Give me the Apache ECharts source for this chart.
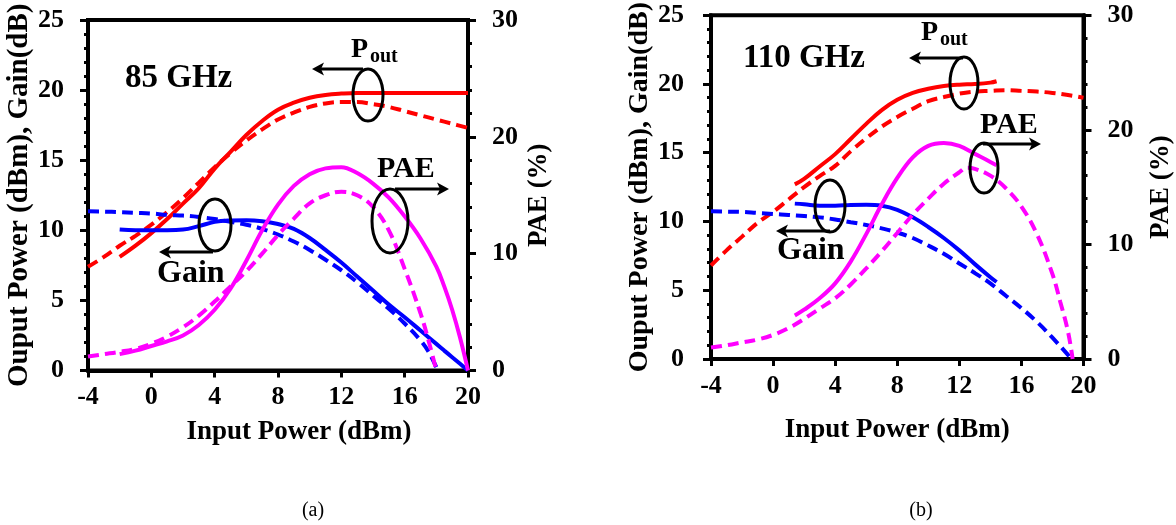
<!DOCTYPE html>
<html>
<head>
<meta charset="utf-8">
<script src="https://cdn.jsdelivr.net/npm/echarts@6/dist/echarts.min.js"></script>
<style>
  html, body { margin: 0; padding: 0; background: #ffffff; }
  #chart { width: 1176px; height: 525px; }
</style>
</head>
<body>
<div id="chart"></div>
<script>
// ---- 85 GHz: simulated (solid) and measured (dashed) ----
const pin85Sim = [-2, -1, 0, 1, 2, 3, 4, 5, 6, 7, 8, 9, 10, 11, 12, 13, 14, 15, 16, 17, 18, 18.5, 19, 19.5, 20];
const pout85Sim = [8.1, 8.9, 9.8, 10.8, 11.9, 13.0, 14.4, 15.6, 16.8, 17.8, 18.6, 19.1, 19.45, 19.65, 19.75, 19.8, 19.8, 19.8, 19.8, 19.8, 19.8, 19.8, 19.8, 19.8, 19.8];
const gain85Sim = [10.05, 10.0, 10.0, 10.0, 10.05, 10.3, 10.6, 10.7, 10.72, 10.65, 10.45, 10.1, 9.45, 8.6, 7.7, 6.7, 5.7, 4.7, 3.8, 2.85, 1.9, 1.42, 0.95, 0.48, 0];
const pae85Sim = [1.4, 1.7, 2.1, 2.5, 3.0, 3.9, 5.2, 7.0, 9.4, 12.0, 14.2, 15.8, 16.8, 17.3, 17.4, 16.9, 16.0, 14.8, 13.2, 11.3, 8.9, 7.2, 5.2, 2.8, 0];

const pin85MeasPout = [-4, -3, -2, -1, 0, 1, 2, 3, 4, 5, 6, 7, 8, 9, 10, 11, 12, 13, 14, 15, 16, 17, 18, 19, 20];
const pout85Meas = [7.4, 8.1, 8.9, 9.6, 10.4, 11.3, 12.3, 13.4, 14.5, 15.5, 16.4, 17.2, 17.9, 18.4, 18.8, 19.05, 19.15, 19.15, 19.0, 18.8, 18.5, 18.2, 17.9, 17.6, 17.3];
const pin85MeasGain = [-4, -3, -2, -1, 0, 1, 2, 3, 4, 5, 6, 7, 8, 9, 10, 11, 12, 13, 14, 15, 16, 17, 17.5, 18.1];
const gain85Meas = [11.35, 11.33, 11.3, 11.25, 11.2, 11.1, 11.05, 10.95, 10.8, 10.6, 10.4, 10.1, 9.7, 9.2, 8.6, 7.9, 7.15, 6.3, 5.35, 4.4, 3.35, 2.15, 1.35, 0];
const pin85MeasPae = [-4, -3, -2, -1, 0, 1, 2, 3, 4, 5, 6, 7, 8, 9, 10, 11, 12, 13, 14, 15, 16, 17, 17.5, 18];
const pae85Meas = [1.2, 1.4, 1.6, 1.85, 2.3, 2.9, 3.7, 4.7, 5.9, 7.2, 8.5, 10.0, 11.6, 13.0, 14.3, 15.0, 15.3, 15.0, 14.0, 12.0, 8.7, 4.9, 2.6, 0];

// ---- 110 GHz: simulated (solid) and measured (dashed) ----
const pin110Sim = [1.4, 2, 3, 4, 5, 6, 7, 8, 9, 10, 11, 12, 13, 14, 14.4];
const pout110Sim = [12.7, 13.1, 14.0, 14.9, 16.0, 17.1, 18.1, 18.85, 19.35, 19.65, 19.85, 19.95, 20.0, 20.1, 20.2];
const gain110Sim = [11.3, 11.25, 11.15, 11.15, 11.2, 11.22, 11.15, 10.85, 10.3, 9.6, 8.8, 7.9, 6.9, 5.95, 5.6];
const pae110Sim = [3.8, 4.3, 5.3, 6.6, 8.5, 10.9, 13.5, 15.8, 17.6, 18.6, 18.85, 18.6, 17.9, 17.2, 16.9];

const pin110MeasPout = [-4, -3, -2, -1, 0, 1, 2, 3, 4, 5, 6, 7, 8, 9, 10, 11, 12, 13, 14, 15, 16, 17, 18, 19, 20];
const pout110Meas = [6.8, 7.9, 8.9, 9.9, 10.7, 11.6, 12.5, 13.3, 14.05, 15.1, 16.05, 16.9, 17.6, 18.2, 18.75, 19.05, 19.3, 19.45, 19.5, 19.55, 19.5, 19.45, 19.35, 19.2, 19.0];
const pin110MeasGain = [-4, -3, -2, -1, 0, 1, 2, 3, 4, 5, 6, 7, 8, 9, 10, 11, 12, 13, 14, 15, 16, 17, 18, 19, 19.2];
const gain110Meas = [10.75, 10.72, 10.7, 10.62, 10.55, 10.48, 10.4, 10.3, 10.15, 9.95, 9.75, 9.5, 9.2, 8.8, 8.25, 7.65, 6.95, 6.25, 5.5, 4.6, 3.7, 2.7, 1.55, 0.3, 0];
const pin110MeasPae = [-4, -3, -2, -1, 0, 1, 2, 3, 4, 5, 6, 7, 8, 9, 10, 11, 12, 12.5, 13, 14, 15, 16, 17, 18, 18.5, 19, 19.3];
const pae110Meas = [1.0, 1.2, 1.45, 1.7, 2.1, 2.7, 3.5, 4.4, 5.3, 6.5, 7.9, 9.4, 11.0, 12.6, 14.0, 15.3, 16.3, 16.7, 16.6, 16.0, 14.9, 13.3, 10.9, 7.4, 5.0, 2.4, 0];

// ---- axis ranges and titles ----
const inputTicks = { min: -4, max: 20, interval: 4 };
const leftRange = { min: 0, max: 25, interval: 5 };
const rightRange = { min: 0, max: 30, interval: 10 };
const xTitle = 'Input Power (dBm)';
const yLeftTitle = 'Ouput Power (dBm), Gain(dB)';
const yRightTitle = 'PAE (%)';

const FONT = '"Liberation Serif", "Times New Roman", serif';
const RED = '#ff0000', BLUE = '#0000ff', MAGENTA = '#ff00ff';

function pairs(xs, ys) { return xs.map((x, i) => [x, ys[i]]); }

function curve(xs, ys, color, dashed, xi, yi) {
  return {
    type: 'line', xAxisIndex: xi, yAxisIndex: yi,
    data: pairs(xs, ys),
    showSymbol: false, symbol: 'none', smooth: 0.4,
    silent: true, animation: false,
    lineStyle: { color: color, width: 4, type: dashed ? [11, 6] : 'solid', cap: 'butt' }
  };
}

function xAxis(gridIndex, gap, padLeft) {
  return {
    type: 'value', gridIndex: gridIndex,
    min: inputTicks.min, max: inputTicks.max, interval: inputTicks.interval,
    axisLine: { show: true, onZero: false, lineStyle: { color: '#000', width: 4 } },
    axisTick: { show: true, inside: false, length: 7, lineStyle: { color: '#000', width: 3 } },
    axisLabel: { show: true, showMinLabel: true, showMaxLabel: true, margin: 14,
      fontFamily: FONT, fontWeight: 'bold', fontSize: 26, color: '#000' },
    splitLine: { show: false },
    name: xTitle, nameLocation: 'middle', nameGap: gap,
    nameTextStyle: { fontFamily: FONT, fontWeight: 'bold', fontSize: 27, color: '#000',
      padding: [0, 0, 0, padLeft] }
  };
}

function yAxis(gridIndex, range, side, gap, labelMargin, title, titleSize) {
  return {
    type: 'value', gridIndex: gridIndex, position: side,
    min: range.min, max: range.max, interval: range.interval,
    axisLine: { show: true, onZero: false, lineStyle: { color: '#000', width: 4 } },
    axisTick: { show: true, inside: false, length: 8, lineStyle: { color: '#000', width: 3 } },
    minorTick: { show: true, splitNumber: 5, length: 4, lineStyle: { color: '#000', width: 3 } },
    axisLabel: { show: true, showMinLabel: true, showMaxLabel: true, margin: labelMargin,
      fontFamily: FONT, fontWeight: 'bold', fontSize: 26, color: '#000' },
    splitLine: { show: false }, minorSplitLine: { show: false },
    name: title, nameLocation: 'middle', nameGap: gap,
    nameTextStyle: { fontFamily: FONT, fontWeight: 'bold', fontSize: titleSize, color: '#000' }
  };
}

// ---- annotation helpers (ellipses, arrows, labels) ----
function ellipse(cx, cy, rx, ry) {
  return { type: 'ellipse', shape: { cx: cx, cy: cy, rx: rx, ry: ry }, z: 100,
    style: { fill: 'none', stroke: '#000', lineWidth: 3 } };
}
function arrow(x1, y, x2) {
  const dir = Math.sign(x2 - x1), head = 12, half = 6.5;
  return [
    { type: 'line', z: 100, shape: { x1: x1, y1: y, x2: x2 - dir * head * 0.7, y2: y },
      style: { stroke: '#000', lineWidth: 3 } },
    { type: 'polygon', z: 100,
      shape: { points: [[x2, y], [x2 - dir * head, y - half], [x2 - dir * head * 0.75, y], [x2 - dir * head, y + half]] },
      style: { fill: '#000' } }
  ];
}
function label(text, x, y, size, align, weight) {
  return { type: 'text', z: 100, x: x, y: y,
    style: { text: text, font: (weight || 'bold') + ' ' + size + 'px ' + FONT, fill: '#000',
      align: align || 'left', verticalAlign: 'middle',
      textAlign: align || 'left', textVerticalAlign: 'middle' } };
}

const graphics = [].concat(
  // 85 GHz panel
  [label('85 GHz', 125, 78, 33)],
  [label('P', 351, 50, 28), label('out', 370, 57, 20)],
  arrow(363, 69, 312), [ellipse(368, 95, 15, 26)],
  [label('PAE', 377, 169, 30)],
  arrow(395, 189, 449), [ellipse(390, 221, 18, 32)],
  [ellipse(215, 225, 16, 26)],
  arrow(213, 252, 159), [label('Gain', 157, 274, 32)],
  // 110 GHz panel
  [label('110 GHz', 743, 58, 33)],
  [label('P', 921, 33, 28), label('out', 940, 40, 20)],
  arrow(963, 58, 909), [ellipse(964, 83, 14, 26)],
  [label('PAE', 980, 125, 30)],
  arrow(983, 144, 1041), [ellipse(984, 168, 14, 25)],
  [ellipse(830, 206, 15, 26)],
  arrow(830, 231, 776), [label('Gain', 777, 251, 32)],
  // panel captions
  [label('(a)', 313, 511, 20, 'center', 'normal'), label('(b)', 921, 511, 20, 'center', 'normal')]
);

const chart = echarts.init(document.getElementById('chart'), null, { renderer: 'canvas' });
chart.setOption({
  animation: false,
  backgroundColor: '#ffffff',
  grid: [
    { left: 88, top: 20, width: 380, height: 350.5, show: true, borderColor: '#000', borderWidth: 4, containLabel: false },
    { left: 711, top: 8, width: 372.5, height: 351, show: true, borderColor: '#000', borderWidth: 4, containLabel: false }
  ],
  xAxis: [xAxis(0, 48, 42), xAxis(1, 58, 0)],
  yAxis: [
    yAxis(0, leftRange, 'left', 52, 24, yLeftTitle, 29),
    yAxis(0, rightRange, 'right', 58, 24, yRightTitle, 27),
    yAxis(1, leftRange, 'left', 55, 27, yLeftTitle, 28),
    yAxis(1, rightRange, 'right', 64, 24, yRightTitle, 27)
  ],
  series: [
    curve(pin85Sim, pout85Sim, RED, false, 0, 0),
    curve(pin85MeasPout, pout85Meas, RED, true, 0, 0),
    curve(pin85Sim, gain85Sim, BLUE, false, 0, 0),
    curve(pin85MeasGain, gain85Meas, BLUE, true, 0, 0),
    curve(pin85Sim, pae85Sim, MAGENTA, false, 0, 1),
    curve(pin85MeasPae, pae85Meas, MAGENTA, true, 0, 1),

    curve(pin110Sim, pout110Sim, RED, false, 1, 2),
    curve(pin110MeasPout, pout110Meas, RED, true, 1, 2),
    curve(pin110Sim, gain110Sim, BLUE, false, 1, 2),
    curve(pin110MeasGain, gain110Meas, BLUE, true, 1, 2),
    curve(pin110Sim, pae110Sim, MAGENTA, false, 1, 3),
    curve(pin110MeasPae, pae110Meas, MAGENTA, true, 1, 3)
  ],
  graphic: graphics
});
</script>
</body>
</html>
